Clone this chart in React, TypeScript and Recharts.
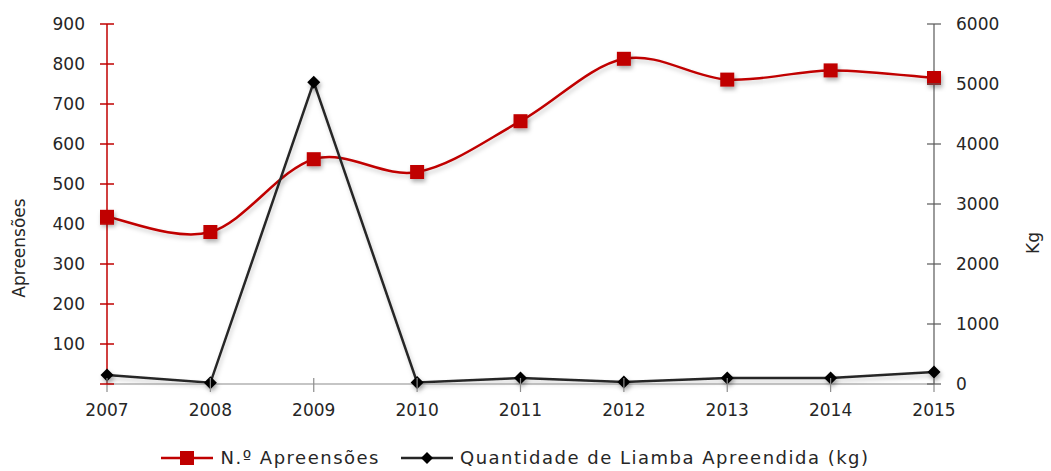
import React from 'react';
import { LineChart, Line, XAxis, YAxis, Legend } from 'recharts';

const years = ['2007', '2008', '2009', '2010', '2011', '2012', '2013', '2014', '2015'];
const apreensoes = [418, 380, 562, 530, 657, 813, 761, 784, 765];
const liamba = [150, 20, 5030, 25, 100, 35, 100, 100, 200];
const leftTicks = [0, 100, 200, 300, 400, 500, 600, 700, 800, 900];
const rightTicks = [0, 1000, 2000, 3000, 4000, 5000, 6000];

const data = years.map((y, i) => ({ year: y, apreensoes: apreensoes[i], liamba: liamba[i] }));

const RED = '#C00000';
const DARK = '#262626';
const FONT = '"DejaVu Sans", sans-serif';

// Catmull-Rom style smoothing (like Excel's smoothed line)
const catmullRom: any = (context: any) => {
  let pts: [number, number][] = [];
  return {
    areaStart() {},
    areaEnd() {},
    lineStart() {
      pts = [];
    },
    point(x: number, y: number) {
      pts.push([+x, +y]);
    },
    lineEnd() {
      const n = pts.length;
      if (!n) return;
      context.moveTo(pts[0][0], pts[0][1]);
      for (let i = 0; i < n - 1; i++) {
        const p0 = pts[i - 1] || pts[i];
        const p1 = pts[i];
        const p2 = pts[i + 1];
        const p3 = pts[i + 2] || p2;
        const c1x = p1[0] + (p2[0] - p0[0]) / 6;
        const c1y = p1[1] + (p2[1] - p0[1]) / 6;
        const c2x = p2[0] - (p3[0] - p1[0]) / 6;
        const c2y = p2[1] - (p3[1] - p1[1]) / 6;
        context.bezierCurveTo(c1x, c1y, c2x, c2y, p2[0], p2[1]);
      }
    },
  };
};

const LeftTick = (props: any) => {
  const { x, y, payload } = props;
  return (
    <g>
      <line x1={x - 7} x2={x + 7} y1={y} y2={y} stroke={RED} strokeWidth={1.5} />
      {payload.value !== 0 && (
        <text x={x - 22} y={y} dy={6} textAnchor="end" fill={DARK} fontSize={17} fontFamily={FONT}>
          {payload.value}
        </text>
      )}
    </g>
  );
};

const RightTick = (props: any) => {
  const { x, y, payload } = props;
  return (
    <g>
      <line x1={x - 7} x2={x + 7} y1={y} y2={y} stroke="#595959" strokeWidth={1.2} />
      <text x={x + 22} y={y} dy={6} textAnchor="start" fill={DARK} fontSize={17} fontFamily={FONT}>
        {payload.value}
      </text>
    </g>
  );
};

const BottomTick = (props: any) => {
  const { x, y, payload } = props;
  return (
    <g>
      <line x1={x} x2={x} y1={y - 6} y2={y + 8} stroke="#8c8c8c" strokeWidth={1.2} />
      <text x={x} y={y} dy={32} textAnchor="middle" fill={DARK} fontSize={17} fontFamily={FONT}>
        {payload.value}
      </text>
    </g>
  );
};

const SquareDot = (props: any) => {
  const { cx, cy, index } = props;
  if (cx == null || cy == null) return <g key={index} />;
  return <rect key={index} x={cx - 7} y={cy - 7} width={14} height={14} fill={RED} filter="url(#shadow)" />;
};

const DiamondDot = (props: any) => {
  const { cx, cy, index } = props;
  if (cx == null || cy == null) return <g key={index} />;
  const r = 6.5;
  return (
    <path
      key={index}
      d={`M${cx},${cy - r} L${cx + r},${cy} L${cx},${cy + r} L${cx - r},${cy} Z`}
      fill="#000"
      filter="url(#shadow)"
    />
  );
};

const LegendContent = () => (
  <div
    style={{
      height: 44,
      display: 'flex',
      alignItems: 'flex-end',
      justifyContent: 'center',
      fontFamily: FONT,
      fontSize: 18,
      letterSpacing: 1.5,
      color: DARK,
      lineHeight: '20px',
      marginLeft: -20,
      whiteSpace: 'nowrap',
    }}
  >
    <svg width={52} height={20} style={{ marginRight: 7 }}>
      <line x1={0} x2={52} y1={10} y2={10} stroke={RED} strokeWidth={2.5} />
      <rect x={19} y={3} width={14} height={14} fill={RED} />
    </svg>
    <span style={{ marginRight: 21 }}>N.º Apreensões</span>
    <svg width={52} height={20} style={{ marginRight: 7 }}>
      <line x1={0} x2={52} y1={10} y2={10} stroke={DARK} strokeWidth={2.5} />
      <path d="M26,4 L32,10 L26,16 L20,10 Z" fill="#000" />
    </svg>
    <span>Quantidade de Liamba Apreendida (kg)</span>
  </div>
);

export default function App() {
  return (
    <div style={{ position: 'absolute', left: 0, top: 0, background: '#fff' }}>
      <LineChart width={1051} height={471} data={data} margin={{ top: 24, right: 0, bottom: 3, left: 0 }}>
        <defs>
          <filter id="shadow" x="-50%" y="-50%" width="200%" height="200%">
            <feDropShadow dx={1.5} dy={3} stdDeviation={2} floodColor="#000" floodOpacity={0.3} />
          </filter>
          <filter id="lineShadow" x="-5%" y="-20%" width="110%" height="140%">
            <feDropShadow dx={1.5} dy={3} stdDeviation={2} floodColor="#000" floodOpacity={0.2} />
          </filter>
        </defs>
        <XAxis
          dataKey="year"
          height={40}
          axisLine={{ stroke: '#8c8c8c', strokeWidth: 1.2 }}
          tickLine={false}
          tickSize={0}
          tickMargin={0}
          tick={<BottomTick />}
          interval={0}
        />
        <YAxis
          yAxisId="left"
          width={107}
          domain={[0, 900]}
          ticks={leftTicks}
          axisLine={{ stroke: RED, strokeWidth: 1.5 }}
          tickLine={false}
          tickSize={0}
          tickMargin={0}
          tick={<LeftTick />}
          interval={0}
          label={{
            content: () => (
              <text
                x={25}
                y={248}
                transform="rotate(-90 25 248)"
                textAnchor="middle"
                fill={DARK}
                fontSize={17}
                fontFamily={FONT}
              >
                Apreensões
              </text>
            ),
          }}
        />
        <YAxis
          yAxisId="right"
          orientation="right"
          width={117}
          domain={[0, 6000]}
          ticks={rightTicks}
          axisLine={{ stroke: '#595959', strokeWidth: 1.2 }}
          tickLine={false}
          tickSize={0}
          tickMargin={0}
          tick={<RightTick />}
          interval={0}
          label={{
            content: () => (
              <text
                x={1039}
                y={243}
                transform="rotate(-90 1039 243)"
                textAnchor="middle"
                fill={DARK}
                fontSize={17}
                fontFamily={FONT}
              >
                Kg
              </text>
            ),
          }}
        />
        <Legend verticalAlign="bottom" height={44} content={<LegendContent />} />
        <Line
          yAxisId="left"
          dataKey="apreensoes"
          type={catmullRom}
          stroke={RED}
          strokeWidth={2.5}
          dot={<SquareDot />}
          activeDot={false}
          filter="url(#lineShadow)"
          isAnimationActive={false}
        />
        <Line
          yAxisId="right"
          dataKey="liamba"
          type="linear"
          stroke={DARK}
          strokeWidth={2.5}
          dot={<DiamondDot />}
          activeDot={false}
          filter="url(#lineShadow)"
          isAnimationActive={false}
        />
      </LineChart>
    </div>
  );
}
